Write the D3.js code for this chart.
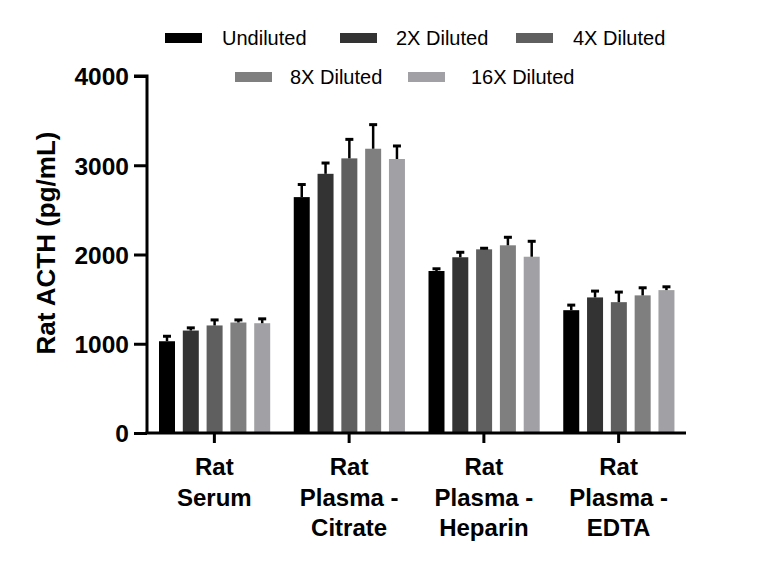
<!DOCTYPE html>
<html>
<head>
<meta charset="utf-8">
<script src="https://cdn.jsdelivr.net/npm/d3@7"></script>
<style>
  body { margin: 0; background: #fff; }
  svg { display: block; }
  text { font-family: "Liberation Sans", Arial, sans-serif; }
</style>
</head>
<body>
<svg id="chart" width="768" height="570"></svg>
<script>
const categories = [
  ["Rat", "Serum"],
  ["Rat", "Plasma -", "Citrate"],
  ["Rat", "Plasma -", "Heparin"],
  ["Rat", "Plasma -", "EDTA"]
];
const series = ["Undiluted", "2X Diluted", "4X Diluted", "8X Diluted", "16X Diluted"];
const colors = ["#000000", "#333333", "#5f5f5f", "#7f7f7f", "#a1a1a5"];
// means per series, in category order
const means = [
  [1028, 2643, 1815, 1376],
  [1148, 2904, 1969, 1519],
  [1205, 3077, 2058, 1466],
  [1238, 3185, 2103, 1542],
  [1230, 3070, 1975, 1601]
];
// upper error (SD) per series, in category order
const errors = [
  [56, 141, 25, 57],
  [30, 121, 56, 71],
  [62, 213, 12, 113],
  [29, 270, 90, 85],
  [49, 146, 173, 37]
];
const yTicks = [0, 1000, 2000, 3000, 4000];

const svg = d3.select("#chart");
const x0 = 147, x1 = 686, yBottom = 433, yTop = 76;

const catIdx = categories.map((c, i) => i);
const x = d3.scaleBand().domain(catIdx).range([x0, x1]).padding(0);
const xs = d3.scaleBand().domain(series).range([12, 123.2]).paddingInner(0.328).paddingOuter(0);
const y = d3.scaleLinear().domain([0, 4000]).range([yBottom, yTop]);

// bars
const data = [];
series.forEach((s, si) => {
  catIdx.forEach(ci => {
    data.push({ s, si, ci, v: means[si][ci], e: errors[si][ci] });
  });
});

const g = svg.append("g");
g.selectAll("rect.bar").data(data).enter().append("rect")
  .attr("class", "bar")
  .attr("x", d => x(d.ci) + xs(d.s))
  .attr("y", d => y(d.v))
  .attr("width", xs.bandwidth())
  .attr("height", d => y(0) - y(d.v))
  .attr("fill", d => colors[d.si]);

// error bars
const eb = g.selectAll("g.err").data(data).enter().append("g").attr("class", "err");
eb.append("line")
  .attr("x1", d => x(d.ci) + xs(d.s) + xs.bandwidth() / 2)
  .attr("x2", d => x(d.ci) + xs(d.s) + xs.bandwidth() / 2)
  .attr("y1", d => y(d.v))
  .attr("y2", d => y(d.v + d.e))
  .attr("stroke", "#000").attr("stroke-width", 2.5);
eb.append("line")
  .attr("x1", d => x(d.ci) + xs(d.s) + xs.bandwidth() / 2 - 4)
  .attr("x2", d => x(d.ci) + xs(d.s) + xs.bandwidth() / 2 + 4)
  .attr("y1", d => y(d.v + d.e))
  .attr("y2", d => y(d.v + d.e))
  .attr("stroke", "#000").attr("stroke-width", 3);

// y axis
const yAxis = d3.axisLeft(y).tickValues(yTicks).tickFormat(d3.format("d")).tickSize(13).tickPadding(5);
const ya = svg.append("g").attr("transform", `translate(${x0},0)`).call(yAxis);
ya.select(".domain").attr("stroke", "#000").attr("stroke-width", 3).attr("d", `M-13,${yTop}H0V${yBottom}`);
ya.selectAll(".tick line").attr("stroke", "#000").attr("stroke-width", 3);
ya.selectAll(".tick text").attr("font-size", 24.5).attr("font-weight", "bold").attr("fill", "#000")
  .attr("font-family", "'Liberation Sans', Arial, sans-serif").attr("dy", "0.36em");

// x axis
const xAxis = d3.axisBottom(x).tickSize(10).tickFormat("");
const xa = svg.append("g").attr("transform", `translate(0,${yBottom})`).call(xAxis);
xa.select(".domain").attr("stroke", "#000").attr("stroke-width", 3).attr("d", `M${x0 - 1.5},0H${x1}`);
xa.selectAll(".tick line").attr("stroke", "#000").attr("stroke-width", 3);

// category labels
const cl = svg.append("g");
categories.forEach((lines, ci) => {
  const t = cl.append("text")
    .attr("x", x(ci) + x.bandwidth() / 2)
    .attr("y", 475)
    .attr("text-anchor", "middle")
    .attr("font-size", 24).attr("font-weight", "bold").attr("fill", "#000");
  lines.forEach((ln, li) => {
    t.append("tspan").attr("x", x(ci) + x.bandwidth() / 2).attr("y", 475 + li * 30.5).text(ln);
  });
});

// y label
svg.append("text")
  .attr("transform", "translate(55,243) rotate(-90)")
  .attr("text-anchor", "middle")
  .attr("font-size", 26).attr("font-weight", "bold").attr("fill", "#000")
  .text("Rat ACTH (pg/mL)");

// legend
const legendPos = [
  { sx: 165, tx: 222, y: 38 },
  { sx: 340, tx: 396, y: 38 },
  { sx: 516, tx: 573, y: 38 },
  { sx: 235, tx: 290, y: 77 },
  { sx: 408, tx: 471, y: 77 }
];
const lg = svg.append("g");
series.forEach((s, i) => {
  const p = legendPos[i];
  lg.append("rect").attr("x", p.sx).attr("y", p.y - 5).attr("width", 37).attr("height", 10).attr("fill", colors[i]);
  lg.append("text").attr("x", p.tx).attr("y", p.y).attr("dy", "0.35em")
    .attr("font-size", 20).attr("fill", "#000").text(s);
});
</script>
</body>
</html>
